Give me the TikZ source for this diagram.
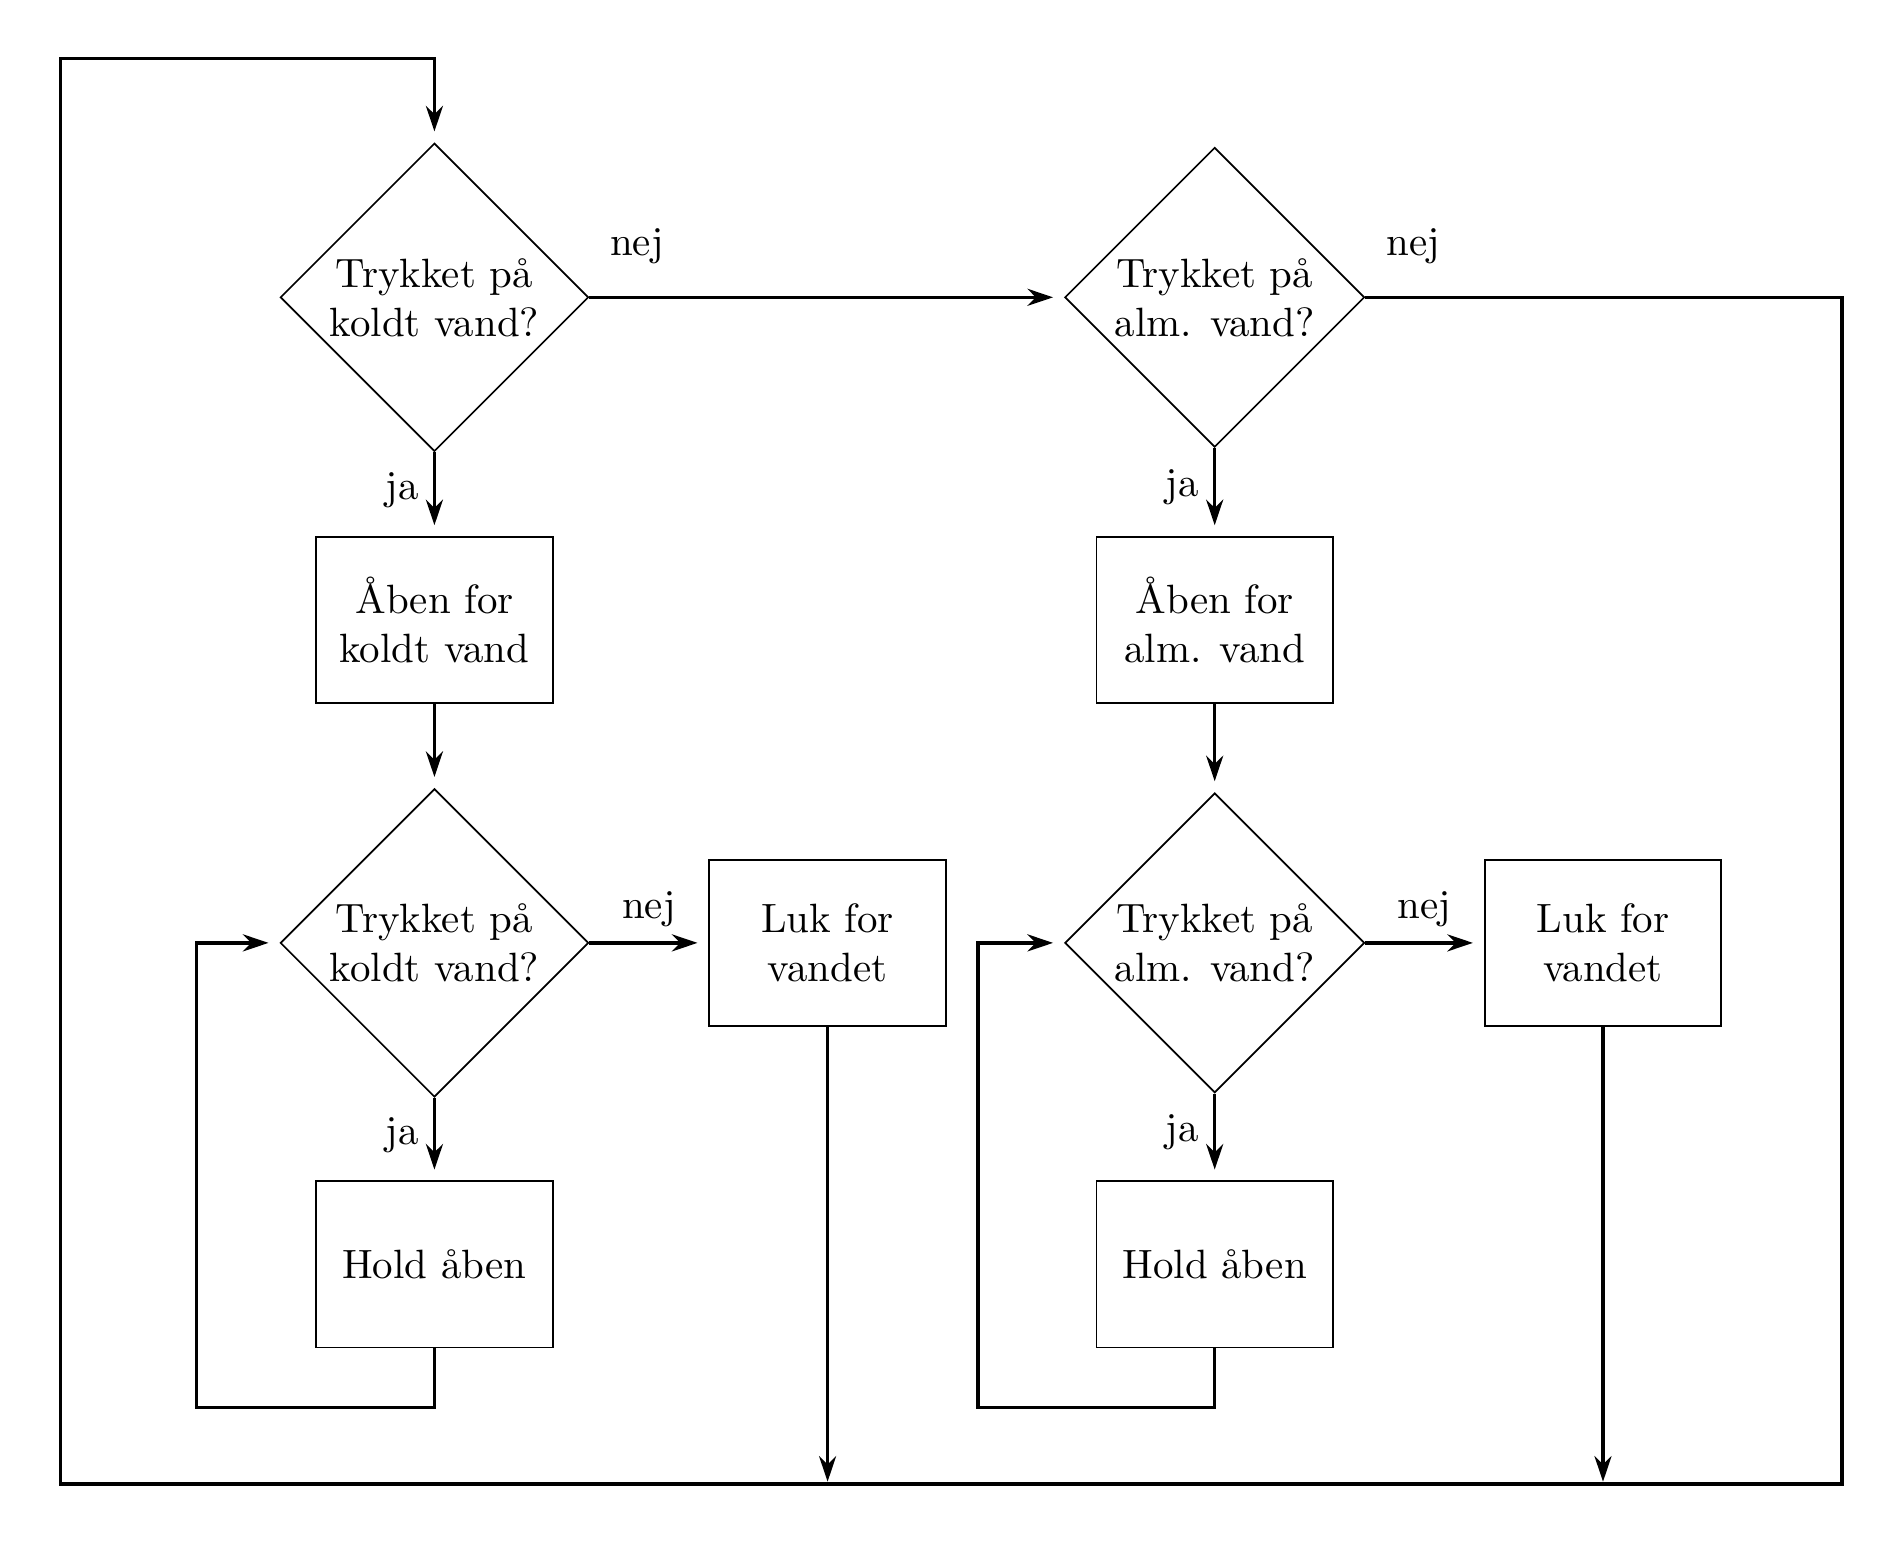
\documentclass[tikz,border=0pt]{standalone}
\usetikzlibrary{shapes.geometric,arrows.meta}
\begin{document}
\begin{tikzpicture}[
  every node/.style={font=\fontsize{9.6}{11.5}\selectfont},
  dec/.style={draw,diamond,aspect=1,inner sep=0pt,align=center},
  box/.style={draw,rectangle,minimum width=1.95cm,minimum height=1.37cm,align=center,inner sep=0pt},
  arr/.style={thick,-{Stealth[length=6pt,width=4pt]},shorten >=0.09cm},
  ln/.style={thick}]
\useasboundingbox (0,0) rectangle (15.6,-12.72);
\node[dec,minimum size=2.54cm] (d1) at (3.58,-2.45) {Trykket på\\koldt vand?};
\node[dec,minimum size=2.47cm] (d2) at (10.01,-2.45) {Trykket på\\alm. vand?};
\node[box] (b1) at (3.58,-5.11) {Åben for\\koldt vand};
\node[box] (b2) at (10.01,-5.11) {Åben for\\alm. vand};
\node[dec,minimum size=2.54cm] (d3) at (3.58,-7.77) {Trykket på\\koldt vand?};
\node[dec,minimum size=2.47cm] (d4) at (10.01,-7.77) {Trykket på\\alm. vand?};
\node[box] (l1) at (6.82,-7.77) {Luk for\\vandet};
\node[box] (l2) at (13.21,-7.77) {Luk for\\vandet};
\node[box] (h1) at (3.58,-10.42) {Hold åben};
\node[box] (h2) at (10.01,-10.42) {Hold åben};
\coordinate (c1) at (3.58,-11.60); \coordinate (c2) at (1.62,-11.60); \coordinate (c3) at (1.62,-7.77);
\coordinate (e1) at (10.01,-11.60); \coordinate (e2) at (8.06,-11.60); \coordinate (e3) at (8.06,-7.77);
\coordinate (o1) at (15.18,-2.45); \coordinate (o2) at (15.18,-12.23); \coordinate (o3) at (0.50,-12.23);
\coordinate (o4) at (0.50,-0.48); \coordinate (o5) at (3.58,-0.48);
\coordinate (f1) at (6.82,-12.23); \coordinate (f2) at (13.21,-12.23);
\draw[arr] (d1.east) -- node[above,pos=0.1,yshift=4pt] {nej} (d2.west);
\draw[arr] (d1.south) -- node[left,pos=0.45] {ja} (b1.north);
\draw[arr] (d2.south) -- node[left,pos=0.45] {ja} (b2.north);
\draw[arr] (b1.south) -- (d3.north);
\draw[arr] (b2.south) -- (d4.north);
\draw[arr] (d3.east) -- node[above,pos=0.5] {nej} (l1.west);
\draw[arr] (d4.east) -- node[above,pos=0.5] {nej} (l2.west);
\draw[arr] (d3.south) -- node[left,pos=0.45] {ja} (h1.north);
\draw[arr] (d4.south) -- node[left,pos=0.45] {ja} (h2.north);
\draw[arr] (h1.south) -- (c1) -- (c2) -- (c3) -- (d3.west);
\draw[arr] (h2.south) -- (e1) -- (e2) -- (e3) -- (d4.west);
\draw[arr] (d2.east) -- node[above,pos=0.1,yshift=4pt] {nej} (o1) -- (o2) -- (o3) -- (o4) -- (o5) -- (d1.north);
\draw[arr,shorten >=0.02cm] (l1.south) -- (f1);
\draw[arr,shorten >=0.02cm] (l2.south) -- (f2);
\end{tikzpicture}
\end{document}
